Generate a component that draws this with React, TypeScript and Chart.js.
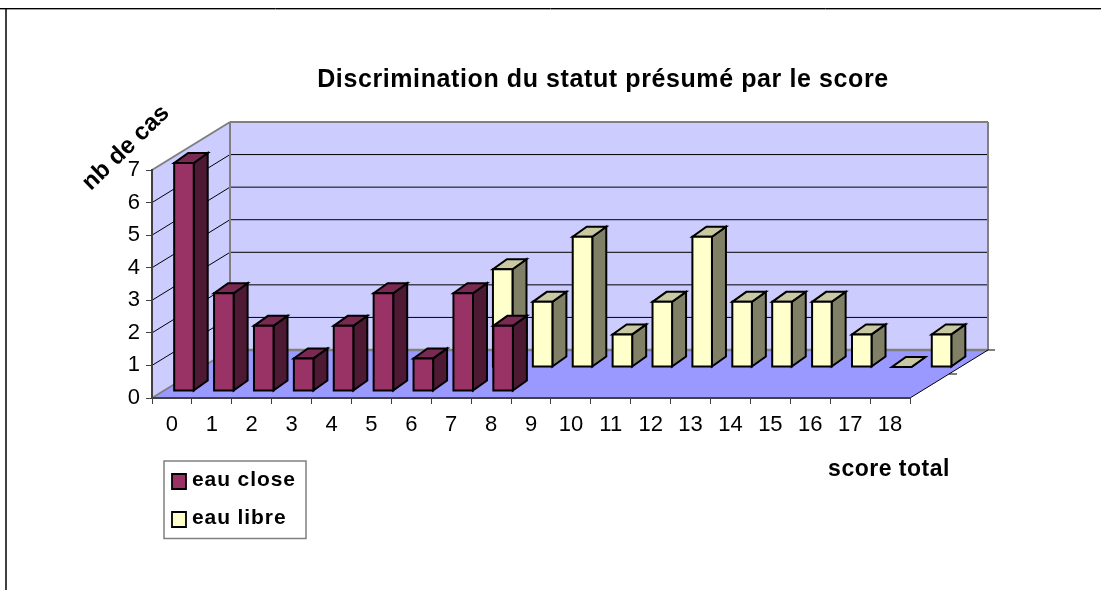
import React, { useEffect, useRef } from "react";
import { Chart, registerables } from "chart.js";

Chart.register(...registerables);

const categories = ["0","1","2","3","4","5","6","7","8","9","10","11","12","13","14","15","16","17","18"];
const eauClose = [7,3,2,1,2,3,1,3,2,null,null,null,null,null,null,null,null,null,null];
const eauLibre = [null,null,null,null,null,null,null,3,2,4,1,2,4,2,2,2,1,0,1];
const titleText = "Discrimination du statut présumé par le score";
const yTitleText = "nb de cas";
const xTitleText = "score total";

const FONT = '"Liberation Sans", Arial, sans-serif';
const DEPTH = { x: 78, y: -48 };
const BAR_DEPTH = { x: 14, y: -10 };
const faces = [
  { front: "#993366", side: "#4D1933", top: "#7A2952", offset: { x: 12, y: -7 } },
  { front: "#FFFFCC", side: "#808066", top: "#C8C8A2", offset: { x: 51.5, y: -31 } },
];

function poly(ctx: CanvasRenderingContext2D, pts: number[][], fill?: string, stroke?: string, lw = 1) {
  ctx.beginPath();
  pts.forEach((p, i) => (i ? ctx.lineTo(p[0], p[1]) : ctx.moveTo(p[0], p[1])));
  ctx.closePath();
  if (fill) { ctx.fillStyle = fill; ctx.fill(); }
  if (stroke) { ctx.strokeStyle = stroke; ctx.lineWidth = lw; ctx.stroke(); }
}
function line(ctx: CanvasRenderingContext2D, x1: number, y1: number, x2: number, y2: number, c: string, lw: number) {
  ctx.beginPath(); ctx.moveTo(x1, y1); ctx.lineTo(x2, y2);
  ctx.strokeStyle = c; ctx.lineWidth = lw; ctx.stroke();
}

const scene3d = {
  id: "scene3d",
  beforeDraw(chart: any) {
    const { ctx, chartArea: a, scales } = chart;
    const W = chart.width, H = chart.height;
    ctx.save();
    ctx.fillStyle = "#fff"; ctx.fillRect(0, 0, W, H);
    // outer frame
    line(ctx, 0, 9.5, W, 9.5, "#a0a0a0", 1);
    line(ctx, 0, 8.5, W, 8.5, "#000", 1);
    line(ctx, 6, 8, 6, H, "#000", 1.5);
    const y = scales.y, dx = DEPTH.x, dy = DEPTH.y;
    const L = a.left, R = a.right, B = a.bottom, T = a.top;
    poly(ctx, [[L+dx,T+dy],[R+dx,T+dy],[R+dx,B+dy],[L+dx,B+dy]], "#CCCCFF");
    poly(ctx, [[L,B],[L+dx,B+dy],[L+dx,T+dy],[L,T]], "#CCCCFF");
    poly(ctx, [[L,B],[L+dx,B+dy],[R+dx,B+dy],[R,B]], "#9999FF");
    for (let v = 1; v <= 6; v++) {
      const py = y.getPixelForValue(v);
      line(ctx, L, py, L+dx, py+dy, "#000", 1);
      line(ctx, L+dx, py+dy, R+dx, py+dy, "#000", 1);
    }
    const gr = "#808080";
    line(ctx, L, T, L+dx, T+dy, gr, 2);
    line(ctx, L+dx, T+dy, R+dx, T+dy, gr, 2);
    line(ctx, L+dx, T+dy, L+dx, B+dy, gr, 2);
    line(ctx, R+dx, T+dy, R+dx, B+dy, gr, 2);
    line(ctx, L+dx, B+dy, R+dx, B+dy, gr, 2.5);
    line(ctx, L, B, L+dx, B+dy, gr, 2);
    line(ctx, R, B, R+dx, B+dy, "#000", 1);
    line(ctx, R+dx/2, B+dy/2, R+dx/2+8, B+dy/2, "#000", 1);
    line(ctx, R+dx, B+dy, R+dx+7, B+dy, "#000", 1);
    ctx.restore();
  },
  beforeDatasetDraw(chart: any, args: any) {
    const { ctx } = chart;
    const f = faces[args.index];
    const values = chart.data.datasets[args.index].data;
    ctx.save();
    ctx.lineJoin = "miter";
    const lw = 2;
    args.meta.data.forEach((el: any, i: number) => {
      if (values[i] === null) return;
      const p = el.getProps(["x", "y", "base", "width"], true);
      const x0 = p.x - p.width / 2 + f.offset.x, x1 = x0 + p.width;
      const top = p.y + f.offset.y, bot = p.base + f.offset.y;
      const bx = BAR_DEPTH.x, by = BAR_DEPTH.y;
      poly(ctx, [[x1,bot],[x1+bx,bot+by],[x1+bx,top+by],[x1,top]], f.side, "#000", lw);
      poly(ctx, [[x0,top],[x1,top],[x1+bx,top+by],[x0+bx,top+by]], f.top, "#000", lw);
      if (bot > top) poly(ctx, [[x0,top],[x1,top],[x1,bot],[x0,bot]], f.front, "#000", lw);
    });
    ctx.restore();
    return false;
  },
  afterDraw(chart: any) {
    const { ctx } = chart;
    ctx.save();
    ctx.fillStyle = "#000";
    ctx.textBaseline = "middle";
    ctx.textAlign = "center";
    ctx.font = `bold 25px ${FONT}`;
    ctx.letterSpacing = "0.6px";
    ctx.fillText(titleText, 603, 80);
    ctx.font = `bold 23px ${FONT}`;
    ctx.letterSpacing = "0.5px";
    ctx.fillText(xTitleText, 889, 470);
    ctx.letterSpacing = "0px";
    ctx.save();
    ctx.translate(126, 148);
    ctx.rotate(-44 * Math.PI / 180);
    ctx.font = `bold 24px ${FONT}`;
    ctx.fillText(yTitleText, 0, 0);
    ctx.restore();
    // legend
    poly(ctx, [[164,461],[306,461],[306,538.5],[164,538.5]], "#fff", "#808080", 1.5);
    const rows = [474, 512];
    chart.data.datasets.forEach((d: any, i: number) => {
      poly(ctx, [[172,rows[i]],[186,rows[i]],[186,rows[i]+15],[172,rows[i]+15]], d.backgroundColor, "#000", 1.8);
      ctx.fillStyle = "#000";
      ctx.textAlign = "left";
      ctx.font = `bold 21px ${FONT}`;
      ctx.letterSpacing = "0.9px";
      ctx.fillText(d.label, 192, rows[i] + 6);
      ctx.letterSpacing = "0px";
    });
    ctx.restore();
  },
};

export default function App() {
  const ref = useRef<HTMLCanvasElement>(null);
  useEffect(() => {
    const tickFont = { family: FONT, size: 22 };
    const chart = new Chart(ref.current!, {
      type: "bar",
      data: {
        labels: categories,
        datasets: [
          { label: "eau close", data: eauClose, backgroundColor: "#993366", order: 1 },
          { label: "eau libre", data: eauLibre, backgroundColor: "#FFFFCC", order: 2 },
        ],
      },
      plugins: [scene3d],
      options: {
        responsive: false,
        animation: false,
        layout: { padding: { left: 0, right: 191, top: 170, bottom: 0 } },
        plugins: { legend: { display: false }, title: { display: false }, tooltip: { enabled: false } },
        datasets: { bar: { grouped: false, categoryPercentage: 1, barPercentage: 0.49 } },
        scales: {
          x: {
            type: "category",
            afterFit(s: any) { s.height = 192; },
            grid: { offset: true, drawOnChartArea: false, drawTicks: true, tickLength: 6, tickColor: "#404040", tickWidth: 1 },
            border: { color: "#404040", width: 2 },
            ticks: { font: tickFont, color: "#000", autoSkip: false, maxRotation: 0, padding: 8 },
          },
          y: {
            min: 0, max: 7,
            afterFit(s: any) { s.width = 152; },
            grid: { drawOnChartArea: false, drawTicks: true, tickLength: 6, tickColor: "#404040", tickWidth: 1 },
            border: { color: "#404040", width: 2 },
            ticks: { font: tickFont, color: "#000", stepSize: 1, padding: 6 },
          },
        },
      } as any,
    } as any);
    return () => chart.destroy();
  }, []);
  return (
    <canvas
      ref={ref}
      width={1101}
      height={590}
      style={{ position: "absolute", left: 0, top: 0, display: "block", width: 1101, height: 590 }}
    />
  );
}
